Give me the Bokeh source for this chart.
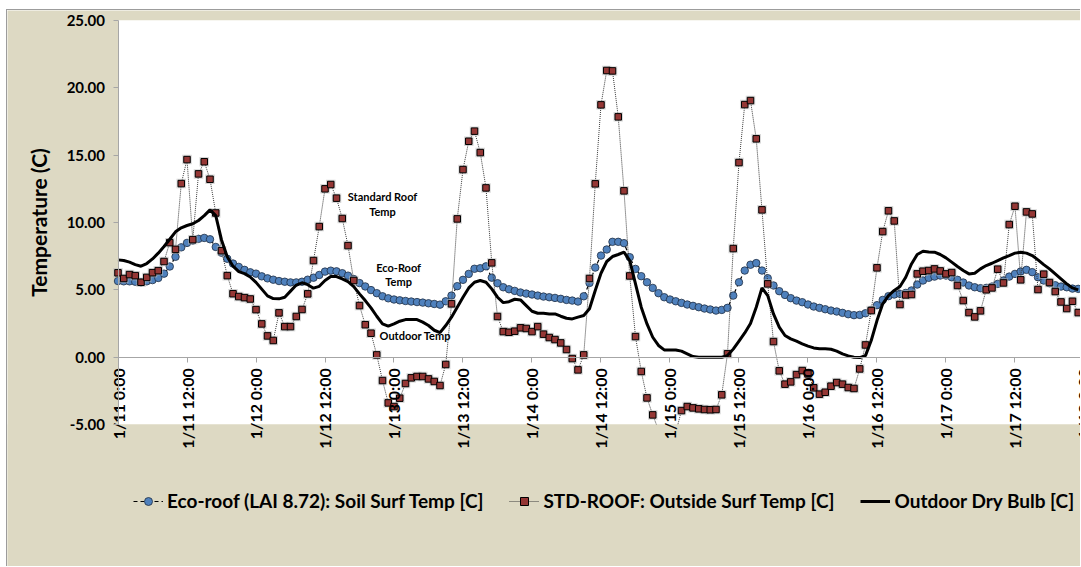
import math

from bokeh.embed import file_html
from bokeh.models import (FixedTicker, Label, Legend, LegendItem,
                          PrintfTickFormatter, Range1d)
from bokeh.plotting import figure
from bokeh.resources import INLINE

# Hourly simulation output, 1/11 0:00 .. 1/17 23:00 (hour index from start)
hours = list(range(168))

# Eco-roof (LAI 8.72): Soil Surf Temp [C]
eco_roof = [
    5.65, 5.63, 5.63, 5.60, 5.55, 5.63, 5.72, 5.88, 6.20, 6.73,
    7.45, 8.15, 8.48, 8.65, 8.78, 8.85, 8.75, 8.18, 7.75, 7.30,
    6.95, 6.70, 6.48, 6.30, 6.20, 6.00, 5.85, 5.75, 5.65, 5.60,
    5.55, 5.55, 5.60, 5.75, 5.90, 6.10, 6.35, 6.42, 6.37, 6.23,
    6.05, 5.80, 5.50, 5.25, 4.98, 4.75, 4.52, 4.37, 4.28, 4.22,
    4.17, 4.13, 4.09, 4.05, 4.00, 3.95, 3.90, 4.15, 4.57, 5.27,
    5.74, 6.18, 6.56, 6.60, 6.74, 5.90, 5.49, 5.19, 5.04, 4.92,
    4.80, 4.72, 4.65, 4.57, 4.50, 4.45, 4.40, 4.33, 4.25, 4.20,
    4.13, 4.52, 5.51, 6.65, 7.54, 7.99, 8.56, 8.56, 8.46, 7.42,
    6.55, 6.01, 5.56, 5.14, 4.75, 4.45, 4.28, 4.15, 4.03, 3.91,
    3.81, 3.71, 3.61, 3.54, 3.46, 3.51, 3.66, 4.57, 5.56, 6.43,
    6.86, 6.98, 6.43, 5.86, 5.32, 4.90, 4.62, 4.38, 4.20, 4.08,
    3.91, 3.76, 3.66, 3.56, 3.46, 3.39, 3.29, 3.19, 3.12, 3.14,
    3.26, 3.51, 3.86, 4.25, 4.53, 4.65, 4.70, 4.77, 4.95, 5.39,
    5.69, 5.89, 5.98, 6.06, 6.06, 5.93, 5.74, 5.54, 5.32, 5.19,
    5.12, 5.14, 5.24, 5.44, 5.69, 5.98, 6.18, 6.36, 6.48, 6.31,
    5.93, 5.69, 5.49, 5.34, 5.24, 5.19, 5.09, 5.07,
]

# STD-ROOF: Outside Surf Temp [C]
std_roof = [
    6.26, 5.84, 6.13, 6.05, 5.56, 5.92, 6.27, 6.42, 7.10, 8.50,
    8.00, 12.88, 14.66, 8.72, 13.60, 14.50, 13.20, 10.70, 7.90, 6.05,
    4.71, 4.50, 4.42, 4.32, 3.53, 2.47, 1.58, 1.24, 3.29, 2.27,
    2.27, 3.02, 3.54, 4.70, 7.17, 9.69, 12.49, 12.81, 11.80, 10.29,
    8.28, 5.69, 3.83, 2.41, 1.78, 0.17, -1.73, -3.39, -3.66, -3.04,
    -1.95, -1.53, -1.43, -1.43, -1.61, -1.80, -2.10, -0.54, 3.96, 10.26,
    13.92, 16.02, 16.77, 15.18, 12.56, 7.00, 3.02, 1.90, 1.85, 1.93,
    2.18, 2.13, 1.90, 2.27, 1.71, 1.46, 1.31, 1.06, 0.57, -0.10,
    -0.94, 0.17, 5.84, 12.86, 18.72, 21.27, 21.24, 17.83, 12.34, 6.03,
    1.53, -1.06, -3.02, -4.28, -5.40, -5.90, -6.00, -5.60, -3.96, -3.66,
    -3.76, -3.83, -3.88, -3.90, -3.88, -2.79, 0.25, 8.06, 14.44, 18.74,
    19.04, 16.20, 10.93, 5.44, 1.16, -1.01, -2.00, -1.83, -1.29, -0.99,
    -1.24, -2.27, -2.74, -2.60, -2.15, -1.88, -2.00, -2.25, -2.32, -0.87,
    0.91, 3.46, 6.63, 9.32, 10.86, 10.11, 3.91, 4.62, 4.65, 6.18,
    6.38, 6.43, 6.55, 6.40, 6.18, 6.28, 5.32, 4.20, 3.31, 2.99,
    3.44, 5.00, 5.14, 6.53, 5.51, 9.84, 11.20, 5.74, 10.78, 10.63,
    5.02, 6.16, 5.54, 4.87, 4.10, 3.61, 4.15, 3.31,
]

# Outdoor Dry Bulb [C]
dry_bulb = [
    7.22, 7.17, 7.05, 6.87, 6.75, 6.95, 7.29, 7.72, 8.21, 8.75,
    9.30, 9.60, 9.77, 9.90, 10.14, 10.50, 10.93, 10.50, 8.70, 7.45,
    6.75, 6.35, 6.20, 5.95, 5.55, 5.05, 4.55, 4.35, 4.33, 4.45,
    4.90, 5.35, 5.52, 5.38, 5.12, 5.26, 5.69, 5.98, 5.98, 5.81,
    5.60, 5.24, 4.70, 4.20, 3.66, 3.04, 2.47, 2.30, 2.47, 2.67,
    2.79, 2.79, 2.79, 2.60, 2.35, 2.00, 1.82, 2.35, 2.97, 3.71,
    4.45, 5.14, 5.56, 5.69, 5.56, 5.07, 4.45, 4.05, 4.12, 4.30,
    4.25, 3.83, 3.41, 3.26, 3.26, 3.21, 3.21, 3.04, 2.89, 2.84,
    2.97, 3.09, 3.59, 4.95, 6.23, 7.10, 7.47, 7.62, 7.79, 7.17,
    5.44, 3.71, 2.47, 1.48, 0.87, 0.54, 0.54, 0.54, 0.45, 0.25,
    0.05, 0.00, 0.00, 0.00, 0.00, 0.00, 0.12, 0.60, 1.20, 1.80,
    2.50, 3.71, 5.14, 4.57, 3.21, 2.23, 1.61, 1.36, 1.19, 0.99,
    0.82, 0.69, 0.62, 0.62, 0.59, 0.45, 0.25, 0.10, 0.00, -0.03,
    0.12, 1.24, 2.72, 3.96, 4.57, 4.95, 5.24, 5.93, 6.92, 7.62,
    7.86, 7.81, 7.79, 7.62, 7.37, 7.05, 6.73, 6.43, 6.18, 6.23,
    6.55, 6.80, 6.97, 7.17, 7.37, 7.54, 7.72, 7.79, 7.72, 7.54,
    7.22, 6.87, 6.55, 6.18, 5.81, 5.44, 5.14, 4.99,
]

tick_hours = [0, 12, 24, 36, 48, 60, 72, 84, 96, 108, 120, 132, 144, 156]
tick_labels = ["1/11 0:00", "1/11 12:00", "1/12 0:00", "1/12 12:00",
               "1/13 0:00", "1/13 12:00", "1/14 0:00", "1/14 12:00",
               "1/15 0:00", "1/15 12:00", "1/16 0:00", "1/16 12:00",
               "1/17 0:00", "1/17 12:00"]
# closing tick, which falls just past the right edge of the chart
end_tick_hour, end_tick_label = 168, "1/18 0:00"
y_ticks = [-5, 0, 5, 10, 15, 20, 25]

# value axis limits of the white plotting area
Y_MIN, Y_MAX = -5, 25
X_MIN, X_MAX = 0, 168

FONT = "Lato"
BEIGE = "#DDD9C3"
AXIS_GREY = "#A6A6A6"
X_LABEL_SIZE = "16px"
TICK_OUT, X_LABEL_STANDOFF = 5, 6

# The frame spans the whole chart so that axis labels and the legend,
# which sit on the beige surround, are never clipped.
x_range = Range1d(-19.22, 167.57)
y_range = Range1d(-15.6, 25.72)

p = figure(
    width=1074, height=557,
    margin=(9, 0, 0, 6),
    x_range=x_range, y_range=y_range,
    output_backend="svg", toolbar_location=None,
    min_border=0, min_border_left=0, min_border_right=0,
    min_border_top=0, min_border_bottom=0,
    background_fill_color=BEIGE, border_fill_color=BEIGE,
    outline_line_color=None,
)
p.styles = {"border-top": "1px solid #9c9c9c", "border-left": "1px solid #9c9c9c"}
p.grid.visible = False

# white plotting area
p.quad(left=X_MIN, right=x_range.end, bottom=Y_MIN, top=Y_MAX,
       fill_color="white", line_color=None)

# y axis, drawn at hour 0
p.yaxis.fixed_location = X_MIN
p.yaxis.bounds = (Y_MIN, Y_MAX)
p.yaxis.ticker = FixedTicker(ticks=y_ticks)
p.yaxis.formatter = PrintfTickFormatter(format="%.2f")
p.yaxis.axis_label = "Temperature (C)"
p.yaxis.axis_label_text_font = FONT
p.yaxis.axis_label_text_font_style = "bold"
p.yaxis.axis_label_text_font_size = "21px"
p.yaxis.axis_label_text_color = "black"
p.yaxis.axis_label_standoff = 13
p.yaxis.major_label_text_font = FONT
p.yaxis.major_label_text_font_style = "bold"
p.yaxis.major_label_text_font_size = "15px"
p.yaxis.major_label_text_color = "black"
p.yaxis.major_label_standoff = 8
p.yaxis.axis_line_color = AXIS_GREY
p.yaxis.major_tick_line_color = AXIS_GREY
p.yaxis.major_tick_out = 5
p.yaxis.major_tick_in = 0
p.yaxis.minor_tick_line_color = None

# x axis crosses at 0 C
p.xaxis.fixed_location = 0
p.xaxis.bounds = (X_MIN, X_MAX)
p.xaxis.ticker = FixedTicker(ticks=tick_hours)
p.xaxis.major_label_overrides = {h: s for h, s in zip(tick_hours, tick_labels)}
p.xaxis.major_label_orientation = math.pi / 2
p.xaxis.major_label_text_font = FONT
p.xaxis.major_label_text_font_style = "bold"
p.xaxis.major_label_text_font_size = X_LABEL_SIZE
p.xaxis.major_label_text_color = "black"
p.xaxis.major_label_standoff = X_LABEL_STANDOFF
p.xaxis.axis_line_color = AXIS_GREY
p.xaxis.major_tick_line_color = AXIS_GREY
p.xaxis.major_tick_out = TICK_OUT
p.xaxis.major_tick_in = 0
p.xaxis.minor_tick_line_color = None

# series
eco_line = p.line(hours, eco_roof, line_color="black", line_width=1.2, line_dash="4 3")
eco_pts = p.scatter(hours, eco_roof, marker="circle", size=7.5,
                    fill_color="#4F81BD", line_color="#1f2f44", line_width=0.8)

std_line = p.line(hours, std_roof, line_color="#3a3a3a", line_width=1, line_dash="1 1")
std_halo = p.scatter(hours, std_roof, marker="square", size=9.5,
                     fill_color="#b8b8b8", fill_alpha=0.55, line_color=None)
std_pts = p.scatter(hours, std_roof, marker="square", size=6.5,
                    fill_color="#953735", line_color="black", line_width=1)

dry_line = p.line(hours, dry_bulb, line_color="black", line_width=3)

# values below the axis minimum are cut off by the surround
p.quad(left=x_range.start, right=x_range.end, bottom=y_range.start, top=Y_MIN,
       fill_color=BEIGE, line_color=None)

# the closing date label, styled like the axis tick labels
p.add_layout(Label(x=end_tick_hour, y=0, y_offset=-(TICK_OUT + X_LABEL_STANDOFF),
                   text=end_tick_label, angle=math.pi / 2,
                   text_align="right", text_baseline="middle",
                   text_font=FONT, text_font_style="bold",
                   text_font_size=X_LABEL_SIZE, text_color="black"))

legend = Legend(
    items=[
        LegendItem(label="Eco-roof (LAI 8.72): Soil Surf Temp [C]", renderers=[eco_line, eco_pts]),
        LegendItem(label="STD-ROOF: Outside Surf Temp [C]", renderers=[std_line, std_halo, std_pts]),
        LegendItem(label="Outdoor Dry Bulb [C]", renderers=[dry_line]),
    ],
    orientation="horizontal",
    location=(126, 55),
    background_fill_alpha=0,
    border_line_color=None,
    label_text_font=FONT,
    label_text_font_style="bold",
    label_text_font_size="19px",
    label_text_color="black",
    glyph_width=30,
    label_standoff=4,
    spacing=26,
    padding=0,
    margin=0,
)
p.add_layout(legend)

# series captions inside the plot
for txt, hx, yv in [("Standard Roof", 46.0, 11.92), ("Temp", 46.0, 10.83),
                    ("Eco-Roof", 48.8, 6.63), ("Temp", 48.8, 5.64),
                    ("Outdoor Temp", 51.7, 1.61)]:
    p.add_layout(Label(x=hx, y=yv, text=txt, text_align="center", text_baseline="middle",
                       text_font=FONT, text_font_style="bold", text_font_size="11px",
                       text_color="black"))

open("out.html", "w").write(file_html(p, INLINE))
